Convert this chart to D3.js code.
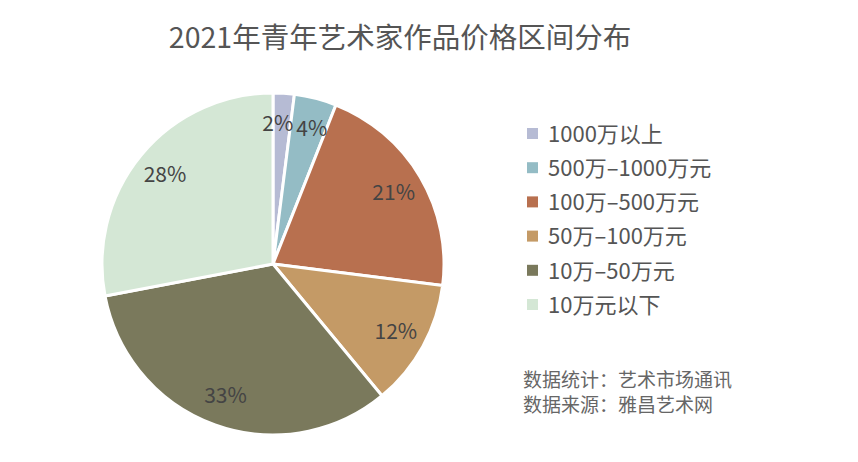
<!DOCTYPE html>
<html><head><meta charset="utf-8">
<script src="https://cdn.jsdelivr.net/npm/d3@7"></script>
<style>body{margin:0;background:#fff;font-family:"Noto Sans CJK SC","Noto Sans",sans-serif;}</style>
</head><body><svg id="chart" width="858" height="462"></svg>
<script>
const categories = ["1000万以上", "500万-1000万元", "100万-500万元", "50万-100万元", "10万-50万元", "10万元以下"];
const values = [2, 4, 21, 12, 33, 28];
const colors = ["#b6bbd4", "#94bcc5", "#b8704f", "#c49a66", "#7a795c", "#d4e7d5"];
const notes = ["数据统计：艺术市场通讯", "数据来源：雅昌艺术网"];

const svg = d3.select("#chart");
const cx = 273, cy = 264, r = 171;

svg.append("text").attr("x", 400).attr("y", 48).attr("text-anchor", "middle")
  .attr("font-size", 28.5).attr("fill", "#555").text("2021年青年艺术家作品价格区间分布");

const pie = d3.pie().sort(null).value(d => d)(values);
const arc = d3.arc().innerRadius(0).outerRadius(r);
const labelArc = d3.arc().innerRadius(r * 0.82).outerRadius(r * 0.82);
const g = svg.append("g").attr("transform", `translate(${cx},${cy})`);

g.selectAll("path").data(pie).enter().append("path")
  .attr("d", arc).attr("fill", (d, i) => colors[i])
  .attr("stroke", "#fff").attr("stroke-width", 3);

g.selectAll("text").data(pie).enter().append("text")
  .attr("transform", (d, i) => {
    const c = labelArc.centroid(d);
    const shift = i === 0 ? -4 : i === 1 ? 4 : 0;
    return `translate(${c[0] + shift},${c[1]})`;
  })
  .attr("text-anchor", "middle").attr("dy", "0.35em")
  .attr("font-size", 21).attr("fill", "#444")
  .text(d => d.data + "%");

const legend = svg.append("g").attr("transform", "translate(527,134)");
const row = legend.selectAll("g").data(categories).enter().append("g")
  .attr("transform", (d, i) => `translate(0,${i * 34.2})`);
row.append("rect").attr("x", 0).attr("y", -6).attr("width", 11).attr("height", 11)
  .attr("fill", (d, i) => colors[i]);
row.append("text").attr("x", 21).attr("dy", "0.35em").attr("font-size", 22)
  .attr("fill", "#555").attr("textLength", d => null)
  .text(d => d.replace(/-/g, "–"));

svg.selectAll(".note").data(notes).enter().append("text")
  .attr("x", 523).attr("y", (d, i) => 387 + i * 25)
  .attr("font-size", 19).attr("fill", "#666").text(d => d);
</script></body></html>
